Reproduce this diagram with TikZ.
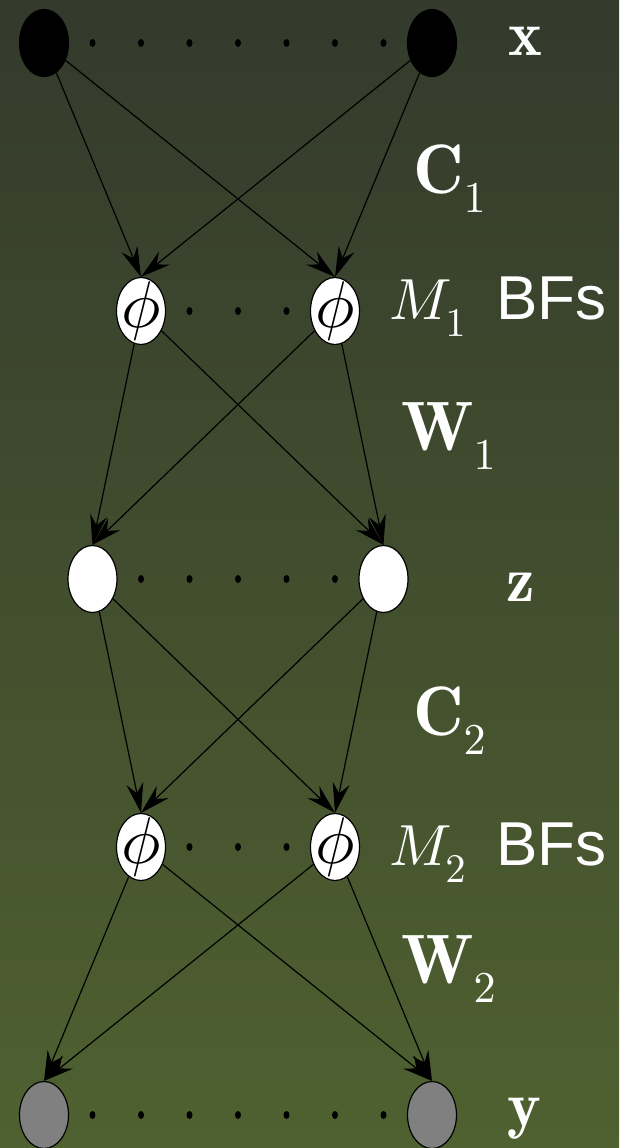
\documentclass[tikz,border=0pt]{standalone}
\usepackage{fontspec}
\newfontfamily\bfsfont{Liberation Sans}
\DeclareFontShape{OML}{cmm}{m}{it}{<->cmmi10}{\skewchar\font'177}
\DeclareFontShape{OT1}{cmr}{m}{n}{<->cmr10}{}
\DeclareFontShape{OT1}{cmr}{bx}{n}{<->cmbx10}{}
\DeclareMathSizes{70}{70}{44}{35}
\usetikzlibrary{shapes.geometric}
\usetikzlibrary{arrows.meta}
\definecolor{bgtop}{HTML}{343A2C}
\definecolor{bgbottom}{HTML}{4F6130}

\begin{document}
\begin{tikzpicture}[x=1pt,y=-1pt,
  unit/.style={ellipse,draw,line width=1.2pt,minimum width=49pt,minimum height=67pt,inner sep=0pt},
  inunit/.style={unit,fill=black},
  hidunit/.style={unit,fill=white},
  outunit/.style={unit,fill=gray},
  bfunit/.style={unit,fill=white,label={[font=\fontsize{66}{66}\selectfont]center:$\phi$}},
  lbl/.style={text=white,inner sep=0pt,anchor=base,font=\fontsize{64}{70}\selectfont},
  mat/.style={lbl,anchor=base west,font=\fontsize{70}{76}\selectfont},
  bfs/.style={lbl,anchor=base west,font=\fontsize{58}{64}\selectfont},
  conn/.style={->,>={Stealth[length=30pt,width=17pt,inset=10pt]},line width=1.2pt}]
\shade[top color=bgtop,bottom color=bgbottom] (0,0) rectangle (619,1148);
\useasboundingbox (0,0) rectangle (619,1148);

% input layer
\node[inunit] (x1) at (44,43) {};
\node[inunit] (x2) at (432,43) {};
% first basis functions
\node[bfunit] (p1) at (141,311) {};
\node[bfunit] (p2) at (335,311) {};
% latent layer
\node[hidunit] (z1) at (92.5,579) {};
\node[hidunit] (z2) at (383.5,579) {};
% second basis functions
\node[bfunit] (q1) at (141,847) {};
\node[bfunit] (q2) at (335,847) {};
% output layer
\node[outunit] (y1) at (44,1115) {};
\node[outunit] (y2) at (432,1115) {};

% dots
\foreach \k in {1,...,7} {
  \fill (44+48.5*\k,43) ellipse (3 and 4);
  \fill (44+48.5*\k,1115) ellipse (3 and 4);
}
\foreach \k in {3,4,5} \fill (44+48.5*\k,311) ellipse (3 and 4);
\foreach \k in {2,...,6} \fill (44+48.5*\k,579) ellipse (3 and 4);
\foreach \k in {3,4,5} \fill (44+48.5*\k,847) ellipse (3 and 4);

% connections
\foreach \a/\b in {x1/p1,x1/p2,x2/p1,x2/p2,p1/z1,p1/z2,p2/z1,p2/z2,
                   z1/q1,z1/q2,z2/q1,z2/q2,q1/y1,q1/y2,q2/y1,q2/y2}
  \draw[conn] (\a) -- (\b.north);

% labels
\node[lbl] (xlab) at (525,56) {$\mathbf{x}$};
\node[mat] (c1lab) at (413,193) {$\mathbf{C}_1$};
\node[bfs] (m1lab) at (389,319) {$M_1$\hspace{30pt}{\bfsfont\fontsize{62}{66}\selectfont BFs}};
\node[mat] (w1lab) at (401,450) {$\mathbf{W}_1$};
\node[lbl] (zlab) at (521,601) {$\mathbf{z}$};
\node[mat] (c2lab) at (413,735) {$\mathbf{C}_2$};
\node[bfs] (m2lab) at (389,865) {$M_2$\hspace{30pt}{\bfsfont\fontsize{62}{66}\selectfont BFs}};
\node[mat] (w2lab) at (401,983) {$\mathbf{W}_2$};
\node[lbl] (ylab) at (524,1126) {$\mathbf{y}$};
\end{tikzpicture}
\end{document}
